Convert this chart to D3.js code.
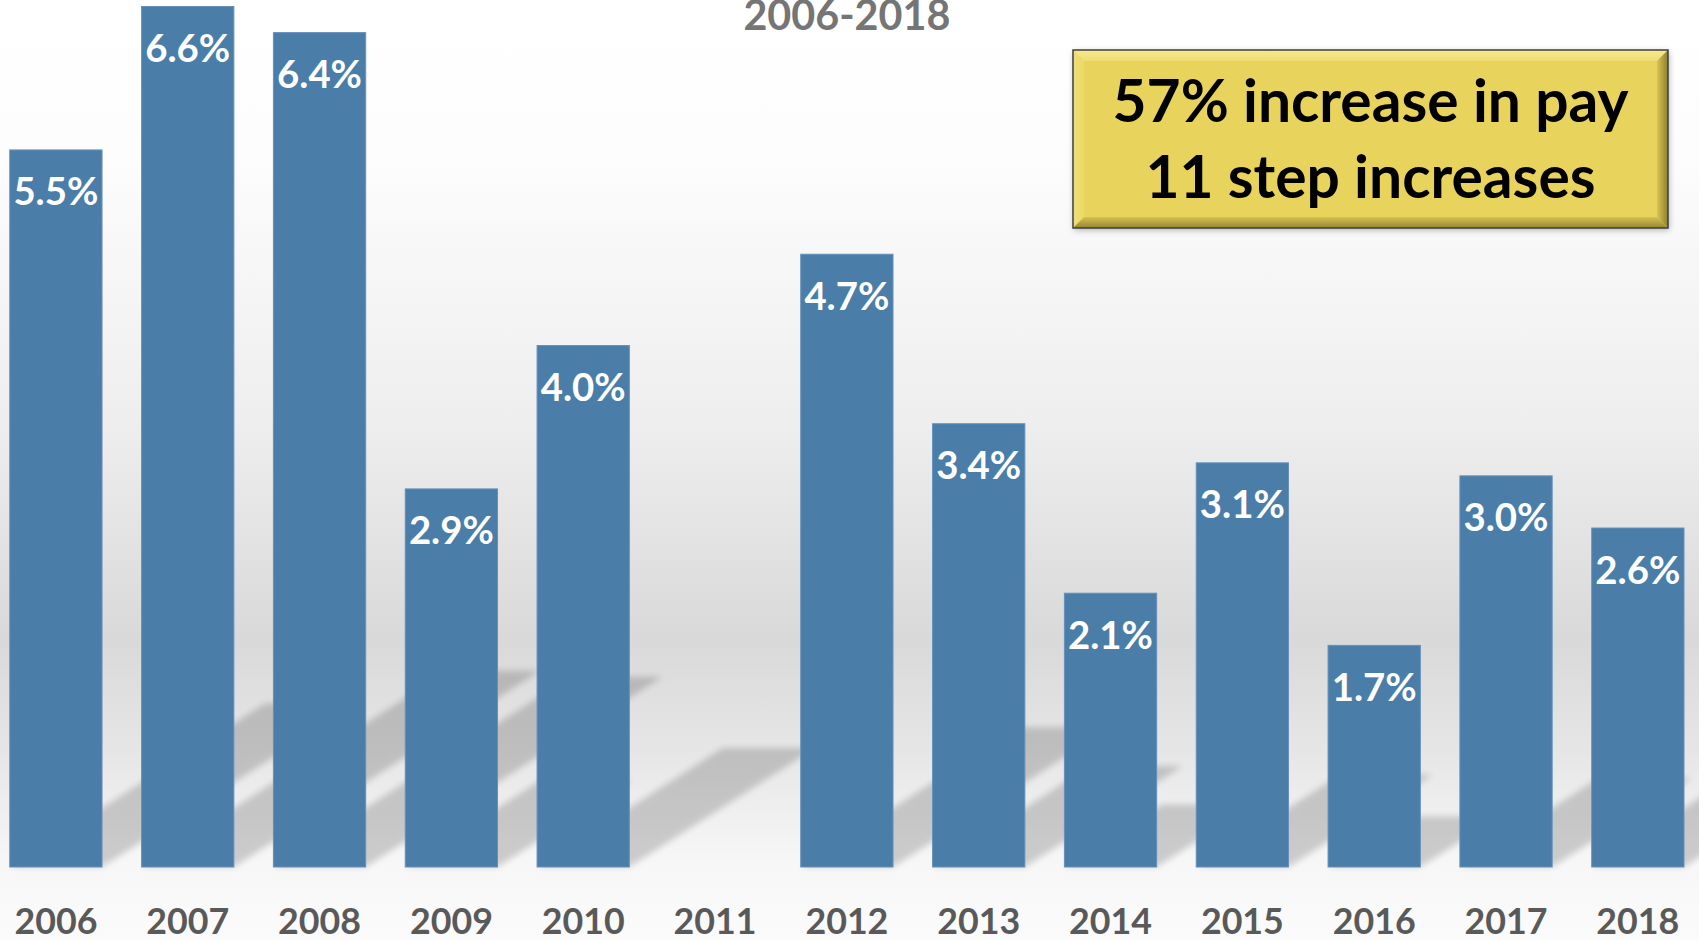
<!DOCTYPE html>
<html>
<head>
<meta charset="utf-8">
<script src="https://cdn.jsdelivr.net/npm/d3@7/dist/d3.min.js"></script>
<style>
  html, body { margin: 0; padding: 0; background: #ffffff; overflow: hidden; }
  svg { display: block; }
</style>
</head>
<body>
<div id="chart"></div>
<script>
// ---- data ----
const years = ["2006","2007","2008","2009","2010","2011","2012","2013","2014","2015","2016","2017","2018"];
const values = [5.5, 6.6, 6.4, 2.9, 4.0, null, 4.7, 3.4, 2.1, 3.1, 1.7, 3.0, 2.6];
const titleText = "2006-2018";
const noteLines = ["57% increase in pay", "11 step increases"];

// ---- layout ----
const W = 1699, H = 940;
const FONT = 'Lato, "Open Sans", "DejaVu Sans", sans-serif';
const baseY = 867;

const svg = d3.select("#chart").append("svg").attr("width", W).attr("height", H);
const defs = svg.append("defs");

// background gradient
const bg = defs.append("linearGradient").attr("id", "bg").attr("x1", 0).attr("y1", 0).attr("x2", 0).attr("y2", 1);
[[0, "#ffffff"], [0.16, "#fdfdfd"], [0.45, "#eeeeee"], [0.68, "#d9d9d9"], [0.8, "#e6e6e6"], [0.92, "#f7f7f7"], [1, "#fbfbfb"]]
  .forEach(([o, c]) => bg.append("stop").attr("offset", o).attr("stop-color", c));
svg.append("rect").attr("width", W).attr("height", H).attr("fill", "url(#bg)");

// blur filter for bar shadows
defs.append("filter").attr("id", "blur").attr("x", "-20%").attr("y", "-20%").attr("width", "140%").attr("height", "140%")
  .append("feGaussianBlur").attr("stdDeviation", 3);

// text measuring helper
const measure = svg.append("text").attr("x", -1000).attr("y", -1000).style("font-family", FONT).style("font-weight", 700);
function fitSize(str, targetW) {
  measure.style("font-size", "100px").text(str);
  const w = measure.node().getComputedTextLength();
  return 100 * targetW / w;
}

// scales
const x = d3.scaleBand().domain(years).range([9.75, 1684]).paddingInner(0.3).paddingOuter(0);
const y = d3.scaleLinear().domain([0, 6.65]).range([baseY, 0]);

const data = years.map((yr, i) => ({ year: yr, value: values[i] })).filter(d => d.value != null);

// shadows (perspective, upper right)
const shadowG = svg.append("g").attr("filter", "url(#blur)").attr("opacity", 0.17);
shadowG.selectAll("path").data(data).join("path")
  .attr("fill", "#000")
  .attr("d", d => {
    const x0 = x(d.year), x1 = x0 + x.bandwidth();
    const h = baseY - y(d.value);
    const hs = 0.228 * h, sh = 1.56 * hs;
    return `M${x0},${baseY} L${x1},${baseY} L${x1 + sh},${baseY - hs} L${x0 + sh},${baseY - hs} Z`;
  });

// bars
svg.append("g").selectAll("rect").data(data).join("rect")
  .attr("x", d => x(d.year))
  .attr("y", d => y(d.value))
  .attr("width", x.bandwidth())
  .attr("height", d => baseY - y(d.value))
  .attr("fill", "#4A7EA8")
  .attr("stroke", "#6591bb")
  .attr("stroke-width", 1);

// value labels
const fmt = d3.format(".1f");
const labelSize = fitSize("5.5%", 85);
svg.append("g").selectAll("text").data(data).join("text")
  .attr("x", d => x(d.year) + x.bandwidth() / 2)
  .attr("y", d => y(d.value) + 55.5)
  .attr("text-anchor", "middle")
  .style("font-family", FONT).style("font-weight", 700)
  .style("font-size", labelSize + "px")
  .attr("fill", "#ffffff")
  .text(d => fmt(d.value) + "%");

// x axis
const axisSize = fitSize("2006", 83);
const ax = svg.append("g").attr("transform", `translate(0,${baseY})`)
  .call(d3.axisBottom(x).tickSize(0));
ax.select(".domain").remove();
ax.selectAll("text")
  .attr("y", 67).attr("dy", 0)
  .style("font-family", FONT).style("font-weight", 700)
  .style("font-size", axisSize + "px")
  .attr("fill", "#595959");

// title
const titleSize = fitSize(titleText, 207);
svg.append("text")
  .attr("x", (x.range()[0] + x.range()[1]) / 2)
  .attr("y", 29.5)
  .attr("text-anchor", "middle")
  .style("font-family", FONT).style("font-weight", 700)
  .style("font-size", titleSize + "px")
  .attr("fill", "#757575")
  .text(titleText);

// annotation box (bevelled)
const bx = 1073, by = 50, bw = 595, bh = 178, bv = 11;
const ds = defs.append("filter").attr("id", "boxshadow").attr("x", "-5%").attr("y", "-10%").attr("width", "110%").attr("height", "125%");
ds.append("feDropShadow").attr("dx", 1).attr("dy", 2).attr("stdDeviation", 3).attr("flood-color", "#000").attr("flood-opacity", 0.3);

function grad(id, x1, y1, x2, y2, c1, c2) {
  const g = defs.append("linearGradient").attr("id", id).attr("x1", x1).attr("y1", y1).attr("x2", x2).attr("y2", y2);
  g.append("stop").attr("offset", 0).attr("stop-color", c1);
  g.append("stop").attr("offset", 1).attr("stop-color", c2);
}
grad("bvTop", 0, 0, 0, 1, "#f7ea8e", "#efdd72");
grad("bvLeft", 0, 0, 1, 0, "#f0df78", "#eada66");
grad("bvRight", 0, 0, 1, 0, "#d8c452", "#8d7e2e");
grad("bvBottom", 0, 0, 0, 1, "#d6c250", "#958632");

const box = svg.append("g");
box.append("rect").attr("x", bx).attr("y", by).attr("width", bw).attr("height", bh)
  .attr("fill", "#E8D35B").attr("filter", "url(#boxshadow)");
const X0 = bx, Y0 = by, X1 = bx + bw, Y1 = by + bh;
box.append("path").attr("fill", "url(#bvTop)")
  .attr("d", `M${X0},${Y0} L${X1},${Y0} L${X1 - bv},${Y0 + bv} L${X0 + bv},${Y0 + bv} Z`);
box.append("path").attr("fill", "url(#bvLeft)")
  .attr("d", `M${X0},${Y0} L${X0 + bv},${Y0 + bv} L${X0 + bv},${Y1 - bv} L${X0},${Y1} Z`);
box.append("path").attr("fill", "url(#bvRight)")
  .attr("d", `M${X1},${Y0} L${X1},${Y1} L${X1 - bv},${Y1 - bv} L${X1 - bv},${Y0 + bv} Z`);
box.append("path").attr("fill", "url(#bvBottom)")
  .attr("d", `M${X0},${Y1} L${X0 + bv},${Y1 - bv} L${X1 - bv},${Y1 - bv} L${X1},${Y1} Z`);
box.append("rect").attr("x", bx).attr("y", by).attr("width", bw).attr("height", bh)
  .attr("fill", "none").attr("stroke", "#3f3f3f").attr("stroke-width", 1.5);

const noteSize = fitSize(noteLines[0], 516);
box.selectAll("text.note").data(noteLines).join("text")
  .attr("class", "note")
  .attr("x", bx + bw / 2)
  .attr("y", (d, i) => i === 0 ? 122 : 198)
  .attr("text-anchor", "middle")
  .style("font-family", FONT).style("font-weight", 700)
  .style("font-size", noteSize + "px")
  .attr("fill", "#000000")
  .text(d => d);

measure.remove();
</script>
</body>
</html>
